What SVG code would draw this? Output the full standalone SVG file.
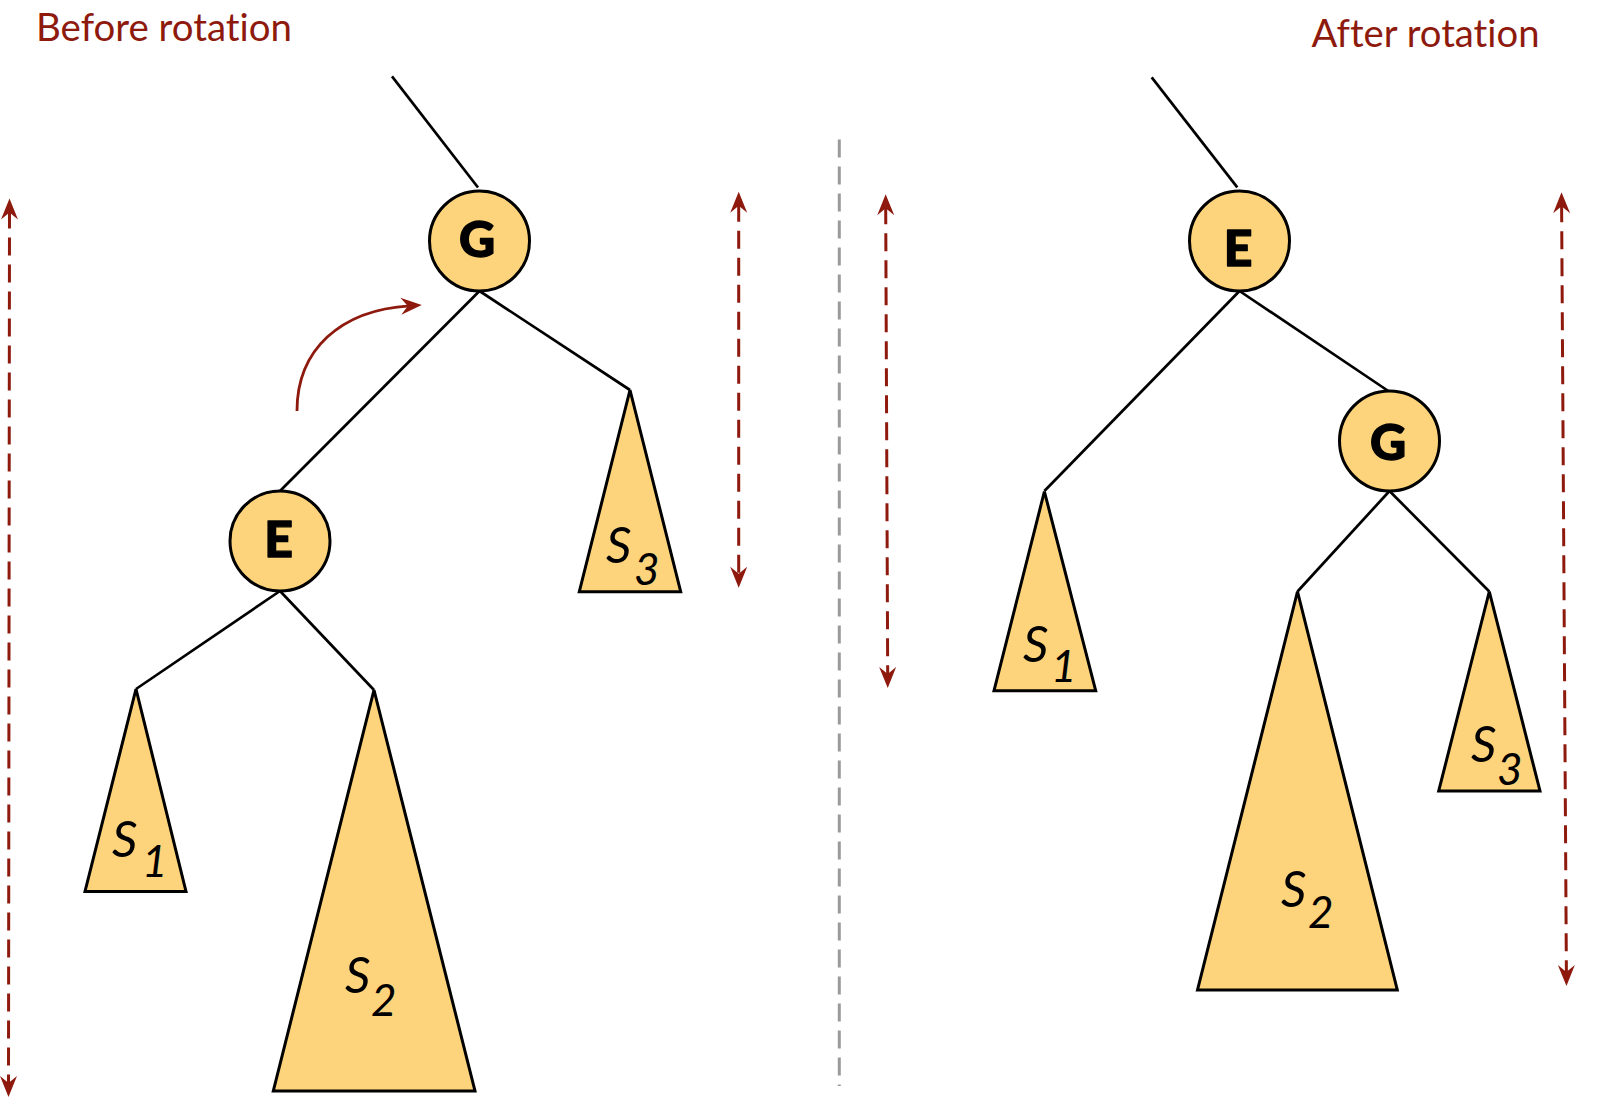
<svg xmlns="http://www.w3.org/2000/svg" width="1598" height="1099" viewBox="0 0 1598 1099">
<style>
.title{font-family:Lato,"Noto Sans","Liberation Sans",sans-serif;font-size:38.5px;fill:#8e1a0e;font-variant-ligatures:none;font-feature-settings:"liga" 0}
.edge{stroke:#000;stroke-width:2.7;fill:none;stroke-linecap:butt}
.node{fill:#FDD47B;stroke:#000;stroke-width:3}
.tri{fill:#FDD47B;stroke:#000;stroke-width:3;stroke-linejoin:miter}
.lbl{font-family:Lato,"Noto Sans","Liberation Sans",sans-serif;font-size:50px;font-weight:900;fill:#000;stroke:#000;stroke-width:1.3;stroke-linejoin:round;text-anchor:middle}
.s{font-family:Lato,"Noto Sans","Liberation Sans",sans-serif;font-style:italic;font-size:50px;fill:#000}
.sub{font-family:Lato,"Noto Sans","Liberation Sans",sans-serif;font-style:italic;font-size:44px;fill:#000}
.dim{stroke:#8e1a0e;stroke-width:3;stroke-dasharray:18 9;fill:none;marker-start:url(#ah);marker-end:url(#ah)}
.div{stroke:#9a9a9a;stroke-width:3;stroke-dasharray:18 9;fill:none}
.rot{stroke:#8e1a0e;stroke-width:2.8;fill:none;marker-end:url(#ah)}
</style>
<defs>
<marker id="ah" markerUnits="userSpaceOnUse" viewBox="-22 -10 24 20" refX="-12" refY="0" markerWidth="24" markerHeight="20" orient="auto-start-reverse">
<path d="M0,0 L-21,-8.5 L-14,0 L-21,8.5 Z" fill="#8e1a0e"/>
</marker>
</defs>
<text class="title" x="36" y="41" textLength="256" lengthAdjust="spacingAndGlyphs">Before rotation</text>
<text class="title" x="1311.5" y="47" textLength="228" lengthAdjust="spacingAndGlyphs">After rotation</text>
<g id="connectors">
<line class="edge" x1="392" y1="76.4" x2="478" y2="187.5"/>
<line class="edge" x1="479.5" y1="291" x2="280" y2="491"/>
<line class="edge" x1="479.5" y1="291" x2="630" y2="390"/>
<line class="edge" x1="280" y1="591" x2="136" y2="689"/>
<line class="edge" x1="280" y1="591" x2="374" y2="690"/>
<line class="edge" x1="1151.7" y1="77.3" x2="1237.3" y2="187.3"/>
<line class="edge" x1="1239.5" y1="291" x2="1044.4" y2="491"/>
<line class="edge" x1="1239.5" y1="291" x2="1388.3" y2="391"/>
<line class="edge" x1="1389.5" y1="491" x2="1297.5" y2="591.5"/>
<line class="edge" x1="1389.5" y1="491" x2="1489.3" y2="591.5"/>
<path class="rot" d="M297,411 C297,350 340,310 409.8,305.8"/>
<line class="dim" x1="9.5" y1="210.5" x2="8.5" y2="1085"/>
<line class="dim" x1="738.7" y1="203.7" x2="738.7" y2="575.7"/>
<line class="dim" x1="885.7" y1="206.3" x2="887.7" y2="676"/>
<line class="dim" x1="1561.6" y1="204.3" x2="1566.4" y2="974"/>
<line class="div" x1="839.3" y1="139.6" x2="839.3" y2="1086"/>
</g>
<g id="node-G-before">
<circle class="node" cx="479.5" cy="241" r="50"/>
<text class="lbl" x="477" y="257">G</text>
</g>
<g id="node-E-before">
<circle class="node" cx="280" cy="541" r="50"/>
<text class="lbl" x="278.5" y="556.7">E</text>
</g>
<g id="subtree-S1-before">
<polygon class="tri" points="136,689 85,891.5 186,891.5"/>
<text class="s" x="112" y="856.7">S</text><text class="sub" x="142" y="877">1</text>
</g>
<g id="subtree-S2-before">
<polygon class="tri" points="374,690 273.3,1091 475,1091"/>
<text class="s" x="345" y="993.3">S</text><text class="sub" x="371" y="1015.7">2</text>
</g>
<g id="subtree-S3-before">
<polygon class="tri" points="630,390 579.3,591.7 680.7,591.7"/>
<text class="s" x="606" y="562.7">S</text><text class="sub" x="634" y="585">3</text>
</g>
<g id="node-E-after">
<circle class="node" cx="1239.5" cy="241" r="50"/>
<text class="lbl" x="1238" y="265.7">E</text>
</g>
<g id="node-G-after">
<circle class="node" cx="1389.5" cy="441" r="50"/>
<text class="lbl" x="1388" y="460">G</text>
</g>
<g id="subtree-S1-after">
<polygon class="tri" points="1044.4,491.5 994,690.7 1095.7,690.7"/>
<text class="s" x="1023" y="661.7">S</text><text class="sub" x="1051" y="682.3">1</text>
</g>
<g id="subtree-S2-after">
<polygon class="tri" points="1297.5,591.5 1197.5,990 1397.3,990"/>
<text class="s" x="1281" y="906.7">S</text><text class="sub" x="1308" y="928.3">2</text>
</g>
<g id="subtree-S3-after">
<polygon class="tri" points="1489.3,591.5 1438.7,791 1540,791"/>
<text class="s" x="1471" y="762.3">S</text><text class="sub" x="1497" y="785">3</text>
</g>
</svg>
